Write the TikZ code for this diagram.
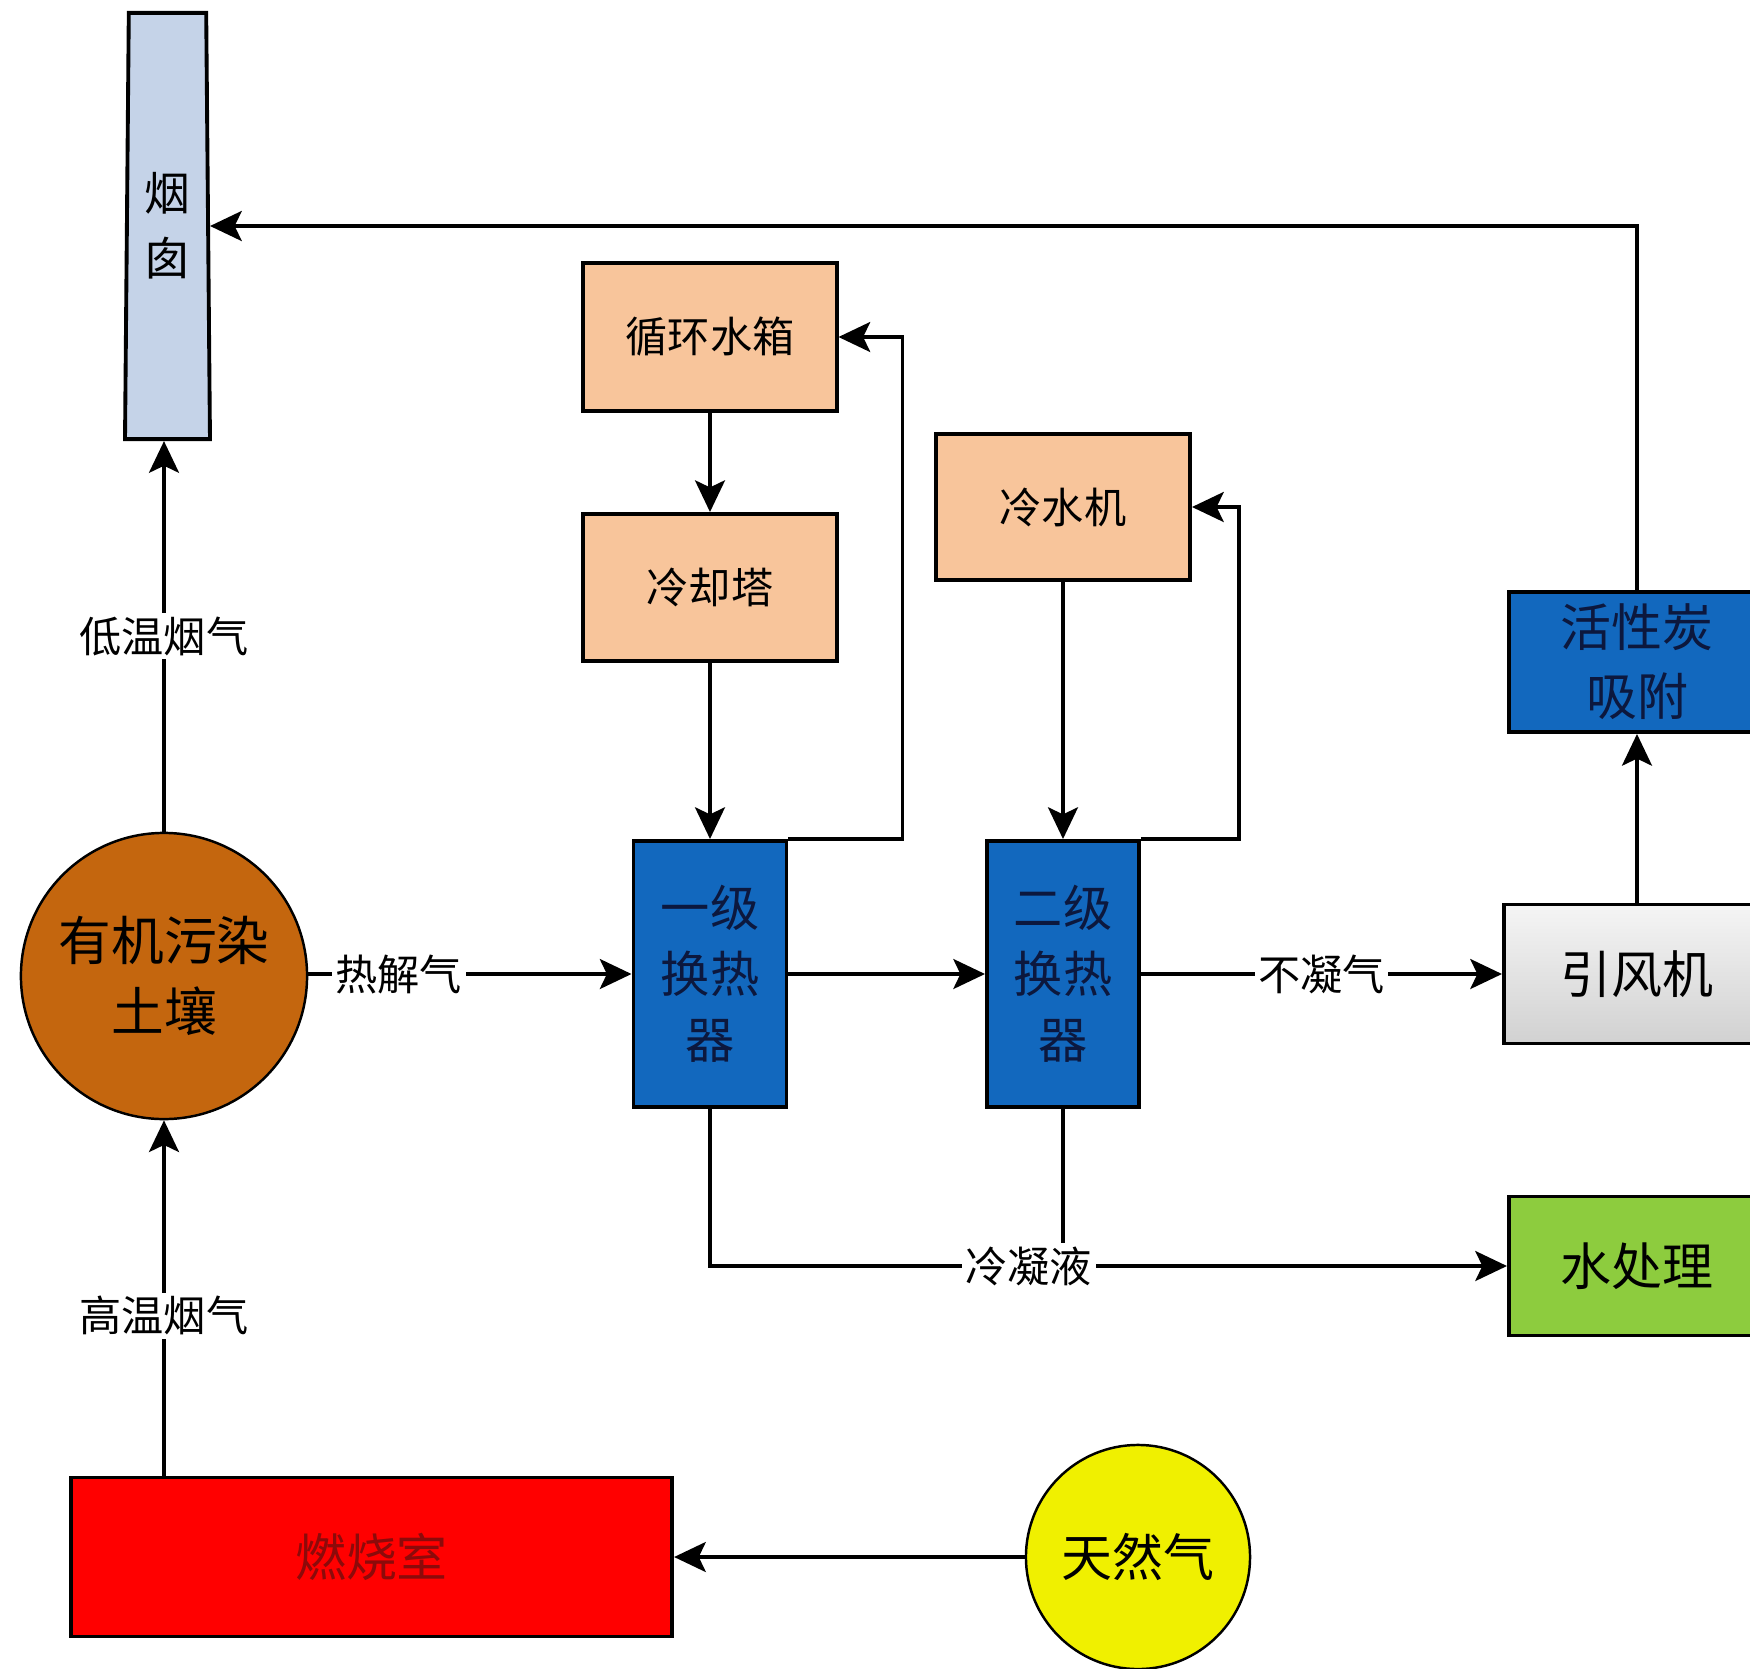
\documentclass[tikz,border=0pt]{standalone}
\usepackage{fontspec}
\setmainfont{Noto Sans CJK SC}
\usepackage{tikz}
\usepackage{xcolor}
\usetikzlibrary{arrows.meta,shapes.geometric}

\definecolor{stackfill}{RGB}{197,211,232}
\definecolor{soilfill}{RGB}{196,102,14}
\definecolor{peachfill}{RGB}{248,197,155}
\definecolor{hxblue}{RGB}{18,104,190}
\definecolor{navytext}{RGB}{12,24,62}
\definecolor{firered}{RGB}{255,0,0}
\definecolor{firetext}{RGB}{140,10,10}
\definecolor{gasfill}{RGB}{240,240,0}
\definecolor{waterfill}{RGB}{141,204,62}

\begin{document}
\begin{tikzpicture}[x=0.01cm,y=-0.01cm,
  box/.style={draw, line width=1.1pt, inner sep=0pt, align=center},
  peach/.style={box, fill=peachfill, font=\fontsize{12}{16}\selectfont},
  hxbox/.style={box, fill=hxblue, text=navytext, font=\fontsize{14}{18.7}\selectfont},
  bigtext/.style={font=\fontsize{14.5}{19.6}\selectfont},
  lbl/.style={fill=white, inner sep=1pt, font=\fontsize{12}{14}\selectfont},
  pipe/.style={line width=1.1pt},
  arr/.style={pipe, -{Stealth[length=9pt,width=8.5pt,inset=2pt]}}]
\clip (0,0) rectangle (1750,1669);
\fill[white] (0,0) rectangle (1750,1669);

% chimney and soil column
\node[trapezium, trapezium left angle=88.8, trapezium right angle=88.8,
  trapezium stretches=true, minimum width=0.85cm, minimum height=4.26cm,
  draw, line width=1.1pt, fill=stackfill, inner sep=0pt, align=center,
  font=\fontsize{13}{18.5}\selectfont] (chimney) at (167.5,226) {烟\\囱};
\node[circle, draw, line width=0.7pt, fill=soilfill, minimum size=2.86cm,
  inner sep=0pt, align=center, font=\fontsize{15}{20}\selectfont] (soil) at (164,976) {有机污染\\土壤};
\node[box, fill=firered, text=firetext, bigtext, minimum width=6.01cm, minimum height=1.59cm] (burn) at (371.5,1557) {燃烧室};
\node[circle, draw, line width=0.7pt, fill=gasfill, minimum size=2.24cm,
  inner sep=0pt, bigtext] (gas) at (1138,1557) {天然气};

% cooling water
\node[peach, minimum width=2.53cm, minimum height=1.48cm] (tank) at (710,337) {循环水箱};
\node[peach, minimum width=2.53cm, minimum height=1.47cm] (tower) at (710,587.5) {冷却塔};
\node[peach, minimum width=2.54cm, minimum height=1.46cm] (chiller) at (1063,507) {冷水机};

% heat exchangers
\node[hxbox, minimum width=1.53cm, minimum height=2.66cm] (hx1) at (710,974) {一级\\换热\\器};
\node[hxbox, minimum width=1.52cm, minimum height=2.66cm] (hx2) at (1063,974) {二级\\换热\\器};

% right column
\node[box, top color=black!4, bottom color=black!18, bigtext, minimum width=2.66cm, minimum height=1.39cm] (fan) at (1637,974) {引风机};
\node[box, fill=hxblue, text=navytext, bigtext, minimum width=2.56cm, minimum height=1.40cm] (act) at (1637,662) {活性炭\\吸附};
\node[box, fill=waterfill, bigtext, minimum width=2.56cm, minimum height=1.39cm] (water) at (1637,1266) {水处理};

% connectors
\draw[arr] (soil.south |- burn.north) -- node[lbl, pos=0.45] {高温烟气} (soil.south);
\draw[arr] (soil.north) -- node[lbl, pos=0.5] {低温烟气} (soil.north |- chimney.south);
\draw[arr] (gas.west) -- (burn.east);
\draw[arr] (soil.east |- hx1.west) -- node[lbl, pos=0.28] {热解气} (hx1.west);
\draw[arr] (hx1.east) -- (hx2.west);
\draw[arr] (hx2.east) -- node[lbl, pos=0.5] {不凝气} (fan.west);
\draw[arr] (fan.north) -- (act.south);
\draw[arr] (act.north) |- (chimney.east);
\draw[arr] (tank.south) -- (tower.north);
\draw[arr] (tower.south) -- (hx1.north);
\draw[arr] (chiller.south) -- (hx2.north);
\draw[arr] (hx1.north east) -- ++(114,0) |- (tank.east);
\draw[arr] (hx2.north east) -- ++(98,0) |- (chiller.east);
\draw[pipe] (hx2.south) -- (hx2.south |- water.west);
\draw[arr] (hx1.south) |- node[lbl, pos=0.7] {冷凝液} (water.west);
\end{tikzpicture}
\end{document}
